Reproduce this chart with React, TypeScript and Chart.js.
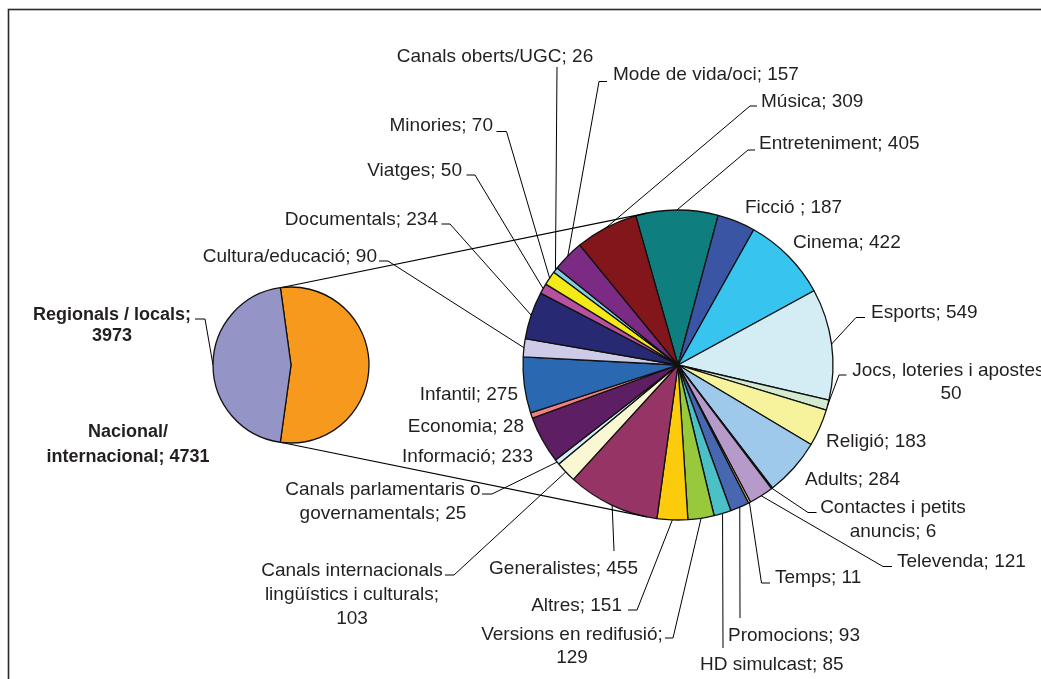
import React, { useEffect, useRef } from "react";
import { Chart, registerables } from "chart.js";

Chart.register(...registerables);

const W = 1041;
const H = 679;

// Primary split: all channels by scope
const SCOPES = ["Nacional/internacional", "Regionals / locals"];
const SCOPE_COUNTS = [4731, 3973];
const SCOPE_COLORS = ["#f7991d", "#9594c7"];

// Breakdown of national / international channels by programme type (clockwise)
const GENRES = [
  "Entreteniment",
  "Ficció ",
  "Cinema",
  "Esports",
  "Jocs, loteries i apostes",
  "Religió",
  "Adults",
  "Contactes i petits anuncis",
  "Televenda",
  "Temps",
  "Promocions",
  "HD simulcast",
  "Versions en redifusió",
  "Altres",
  "Generalistes",
  "Canals internacionals lingüístics i culturals",
  "Canals parlamentaris o governamentals",
  "Informació",
  "Economia",
  "Infantil",
  "Cultura/educació",
  "Documentals",
  "Viatges",
  "Minories",
  "Canals oberts/UGC",
  "Mode de vida/oci",
  "Música",
];
const GENRE_COUNTS = [
  405, 187, 422, 549, 50, 183, 284, 6, 121, 11, 93, 85, 129, 151, 455, 103, 25,
  233, 28, 275, 90, 234, 50, 70, 26, 157, 309,
];
const GENRE_COLORS = [
  "#0e7f7e", "#3b55a5", "#37c5f0", "#d4edf5", "#d3ead0", "#f6f39c", "#9ec9ea",
  "#c7a06a", "#b69bca", "#f6c58c", "#4767b1", "#4bc0c7", "#98c93d", "#fccb0b",
  "#973466", "#faf7d3", "#d5eff8", "#5e1e63", "#f08081", "#2a69b1", "#cecbe8",
  "#272a73", "#b5519f", "#f4ea18", "#80d0e2", "#7c2b85", "#83161b",
];

// Pie placement
const BIG = { cx: 678, cy: 365, r: 155, rotation: -15.8 };
const SMALL = { cx: 291, cy: 365, r: 78, rotation: -7.8 };

type Pt = [number, number];
type LabelSpec = {
  x: number;
  y: number;
  align: CanvasTextAlign;
  lines?: number[];
  lh?: number;
  leader?: Pt[];
};

// Label placement for each programme type (same order as GENRES)
const GENRE_LABELS: LabelSpec[] = [
  { x: 759, y: 149, align: "left", leader: [[755, 150], [748, 150]] },
  { x: 745, y: 212.5, align: "left" },
  { x: 793, y: 248, align: "left" },
  { x: 871, y: 318, align: "left", leader: [[865, 317.5], [856, 317.5]] },
  { x: 951, y: 376, align: "center", lines: [4, 1], lh: 23, leader: [[846.5, 375], [839, 375]] },
  { x: 826, y: 446.5, align: "left" },
  { x: 805, y: 485, align: "left" },
  { x: 893, y: 513, align: "center", lines: [3, 2], lh: 24, leader: [[816.5, 512.5], [808, 512.5]] },
  { x: 897, y: 566.5, align: "left", leader: [[892, 566.5], [883, 566.5]] },
  { x: 775, y: 583, align: "left", leader: [[770, 583], [761.5, 583]] },
  { x: 728, y: 640.5, align: "left", leader: [[740, 618]] },
  { x: 700, y: 670, align: "left", leader: [[723, 648]] },
  { x: 572, y: 640, align: "center", lines: [3, 1], lh: 23, leader: [[665, 638], [673, 638]] },
  { x: 622, y: 610.5, align: "right", leader: [[628, 610], [637, 610]] },
  { x: 638, y: 574, align: "right", leader: [[614, 551]] },
  { x: 352, y: 576, align: "center", lines: [2, 3, 1], lh: 24, leader: [[445, 575], [454, 575]] },
  { x: 383, y: 495, align: "center", lines: [3, 2], lh: 24, leader: [[482, 494], [492, 494]] },
  { x: 533, y: 461.5, align: "right" },
  { x: 524, y: 432, align: "right" },
  { x: 518, y: 400, align: "right" },
  { x: 377, y: 262, align: "right", leader: [[379, 261], [388, 261]] },
  { x: 438, y: 225, align: "right", leader: [[441.5, 224], [450, 224]] },
  { x: 462, y: 175.5, align: "right", leader: [[466.5, 175], [475, 175]] },
  { x: 493, y: 131, align: "right", leader: [[496.5, 131.5], [506.5, 131.5]] },
  { x: 495, y: 62, align: "center", leader: [[557, 67]] },
  { x: 613, y: 80, align: "left", leader: [[607, 81.5], [599, 81.5]] },
  { x: 761, y: 107, align: "left", leader: [[757, 106], [750, 106]] },
];

// Label placement for the scope pie (same order as SCOPES)
const SCOPE_LABELS: LabelSpec[] = [
  { x: 128, y: 436.5, align: "center", lines: [1, 2], lh: 25 },
  { x: 112, y: 320, align: "center", lines: [3, 1], lh: 20.7, leader: [[195, 319], [205, 319]] },
];

const TEXT_COLOR = "#231f20";
const FONT = '"Liberation Sans", Arial, sans-serif';

function paddingFor(p: { cx: number; cy: number; r: number }) {
  const s = p.r + 12;
  return {
    left: p.cx - s,
    right: W - (p.cx + s),
    top: p.cy - s,
    bottom: H - (p.cy + s),
  };
}

function arcProps(arc: any) {
  return arc.getProps(["x", "y", "startAngle", "endAngle", "outerRadius"], true);
}

function midEdge(arc: any): Pt {
  const p = arcProps(arc);
  const a = (p.startAngle + p.endAngle) / 2;
  return [p.x + p.outerRadius * Math.cos(a), p.y + p.outerRadius * Math.sin(a)];
}

function splitLines(text: string, counts?: number[]): string[] {
  if (!counts) return [text];
  const tokens = text.split(/(?<= )|(?<=\/)(?=[^ ])/);
  const out: string[] = [];
  let i = 0;
  for (const n of counts) {
    out.push(tokens.slice(i, i + n).join("").trim());
    i += n;
  }
  return out;
}

function drawLabel(
  ctx: CanvasRenderingContext2D,
  text: string,
  spec: LabelSpec,
  bold: boolean,
  edge: Pt | null
) {
  if (spec.leader && edge) {
    ctx.beginPath();
    ctx.moveTo(spec.leader[0][0], spec.leader[0][1]);
    for (let i = 1; i < spec.leader.length; i++) ctx.lineTo(spec.leader[i][0], spec.leader[i][1]);
    ctx.lineTo(edge[0], edge[1]);
    ctx.strokeStyle = "#000";
    ctx.lineWidth = 1;
    ctx.stroke();
  }
  ctx.font = `${bold ? "bold 18px" : "19px"} ${FONT}`;
  ctx.fillStyle = TEXT_COLOR;
  ctx.textAlign = spec.align;
  ctx.textBaseline = "alphabetic";
  splitLines(text, spec.lines).forEach((line, i) => {
    ctx.fillText(line, spec.x, spec.y + i * (spec.lh ?? 23));
  });
}

// Point where a line from p touches circle (c, r); upper or lower tangent
function tangentPoint(p: Pt, c: Pt, r: number, upper: boolean): Pt {
  const dx = p[0] - c[0];
  const dy = p[1] - c[1];
  const d = Math.hypot(dx, dy);
  const phi = Math.atan2(dy, dx);
  const alpha = Math.acos(Math.min(1, r / d));
  const a1: Pt = [c[0] + r * Math.cos(phi + alpha), c[1] + r * Math.sin(phi + alpha)];
  const a2: Pt = [c[0] + r * Math.cos(phi - alpha), c[1] + r * Math.sin(phi - alpha)];
  if (upper) return a1[1] < a2[1] ? a1 : a2;
  return a1[1] > a2[1] ? a1 : a2;
}

export default function App() {
  const bigRef = useRef<HTMLCanvasElement>(null);
  const smallRef = useRef<HTMLCanvasElement>(null);

  useEffect(() => {
    const small = new Chart(smallRef.current!, {
      type: "pie",
      data: {
        labels: SCOPES,
        datasets: [
          {
            data: SCOPE_COUNTS,
            backgroundColor: SCOPE_COLORS,
            borderColor: "#111",
            borderWidth: 1.3,
          },
        ],
      },
      options: {
        responsive: false,
        animation: false,
        devicePixelRatio: 1,
        rotation: SMALL.rotation,
        radius: SMALL.r,
        layout: { padding: paddingFor(SMALL) },
        plugins: { legend: { display: false }, tooltip: { enabled: false } },
        events: [],
      } as any,
    });

    const overlay = {
      id: "pieOfPieOverlay",
      beforeDraw(chart: any) {
        const ctx: CanvasRenderingContext2D = chart.ctx;
        ctx.save();
        ctx.fillStyle = "#fff";
        ctx.fillRect(0, 0, W, H);
        ctx.strokeStyle = "#2a2a2a";
        ctx.lineWidth = 1.6;
        ctx.strokeRect(8.5, 9.5, W + 20, H + 20);
        ctx.restore();
      },
      afterDraw(chart: any) {
        const ctx: CanvasRenderingContext2D = chart.ctx;
        ctx.save();
        const bigArcs = chart.getDatasetMeta(0).data;
        const smallArcs = small.getDatasetMeta(0).data;

        // Series lines from the split slice to the breakdown pie
        const sp = arcProps(smallArcs[0]);
        const top: Pt = [sp.x + sp.outerRadius * Math.cos(sp.startAngle), sp.y + sp.outerRadius * Math.sin(sp.startAngle)];
        const bot: Pt = [sp.x + sp.outerRadius * Math.cos(sp.endAngle), sp.y + sp.outerRadius * Math.sin(sp.endAngle)];
        const bp = arcProps(bigArcs[0]);
        const c: Pt = [bp.x, bp.y];
        const t1 = tangentPoint(top, c, bp.outerRadius, true);
        const t2 = tangentPoint(bot, c, bp.outerRadius, false);
        ctx.strokeStyle = "#000";
        ctx.lineWidth = 1.1;
        ctx.beginPath();
        ctx.moveTo(top[0], top[1]);
        ctx.lineTo(t1[0], t1[1]);
        ctx.moveTo(bot[0], bot[1]);
        ctx.lineTo(t2[0], t2[1]);
        ctx.stroke();

        GENRES.forEach((name, i) => {
          drawLabel(ctx, `${name}; ${GENRE_COUNTS[i]}`, GENRE_LABELS[i], false, midEdge(bigArcs[i]));
        });
        SCOPES.forEach((name, i) => {
          drawLabel(ctx, `${name}; ${SCOPE_COUNTS[i]}`, SCOPE_LABELS[i], true, midEdge(smallArcs[i]));
        });
        ctx.restore();
      },
    };

    const big = new Chart(bigRef.current!, {
      type: "pie",
      data: {
        labels: GENRES,
        datasets: [
          {
            data: GENRE_COUNTS,
            backgroundColor: GENRE_COLORS,
            borderColor: "#111",
            borderWidth: 1.3,
          },
        ],
      },
      options: {
        responsive: false,
        animation: false,
        devicePixelRatio: 1,
        rotation: BIG.rotation,
        radius: BIG.r,
        layout: { padding: paddingFor(BIG) },
        plugins: { legend: { display: false }, tooltip: { enabled: false } },
        events: [],
      } as any,
      plugins: [overlay],
    });

    return () => {
      big.destroy();
      small.destroy();
    };
  }, []);

  return (
    <div style={{ position: "absolute", left: 0, top: 0, width: W, height: H, overflow: "hidden" }}>
      <canvas ref={bigRef} width={W} height={H} style={{ position: "absolute", left: 0, top: 0 }} />
      <canvas ref={smallRef} width={W} height={H} style={{ position: "absolute", left: 0, top: 0 }} />
    </div>
  );
}
